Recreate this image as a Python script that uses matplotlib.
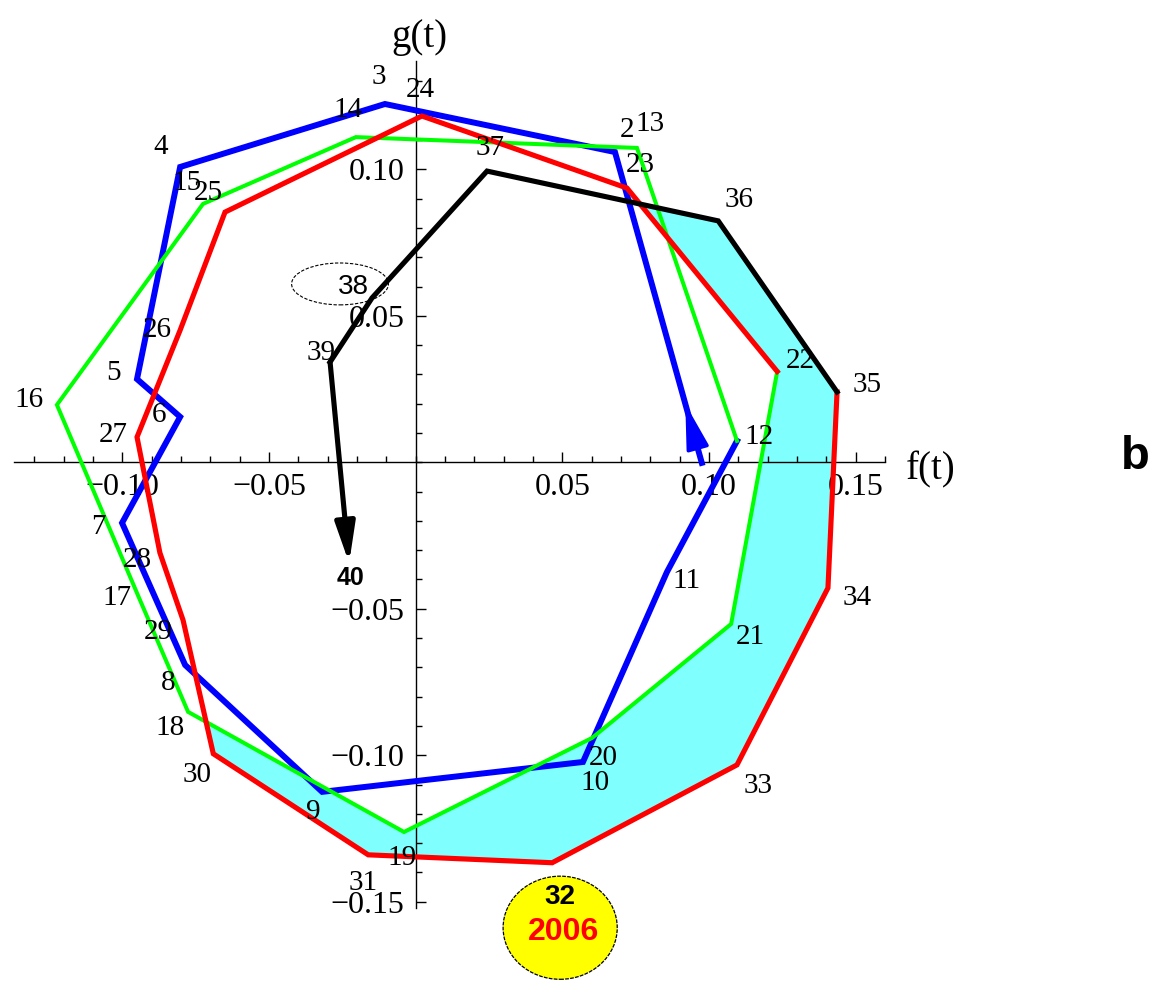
from matplotlib import pyplot as plt
from matplotlib.patches import Ellipse
from matplotlib.transforms import offset_copy
import numpy as np

# ---------------------------------------------------------------------------- #
# Trajectory data. Point numbers run 1..40.
blue_ids = list(range(1, 13))
blue_x = [0.0975, 0.0679, -0.0105, -0.0803, -0.0950, -0.0803,
          -0.1001, -0.0786, -0.0319, 0.0570, 0.0856, 0.1095]
blue_y = [-0.0002, 0.1059, 0.1223, 0.1008, 0.0284, 0.0155,
          -0.0207, -0.0692, -0.1125, -0.1023, -0.0375, 0.0073]

green_ids = list(range(12, 23))
green_x = [0.1095, 0.0754, -0.0204, -0.0725, -0.1223, -0.0940,
           -0.0776, -0.0040, 0.0601, 0.1075, 0.1232]
green_y = [0.0073, 0.1073, 0.1110, 0.0882, 0.0196, -0.0470,
           -0.0852, -0.1262, -0.0941, -0.0552, 0.0310]

red_ids = list(range(22, 36))
red_x = [0.1232, 0.0720, 0.0021, -0.0650, -0.0803, -0.0950, -0.0872,
         -0.0793, -0.0690, -0.0162, 0.0465, 0.1095, 0.1405, 0.1436]
red_y = [0.0310, 0.0936, 0.1182, 0.0854, 0.0451, 0.0086, -0.0309,
         -0.0539, -0.0995, -0.1340, -0.1367, -0.1033, -0.0429, 0.0240]

black_ids = list(range(35, 41))
black_x = [0.1436, 0.1031, 0.0243, -0.0149, -0.0292, -0.0227]
black_y = [0.0240, 0.0824, 0.0994, 0.0561, 0.0342, -0.0344]

xtick_vals = [-0.10, -0.05, 0.05, 0.10, 0.15]
xtick_text = ['\u22120.10', '\u22120.05', '0.05', '0.10', '0.15']
ytick_vals = [-0.15, -0.10, -0.05, 0.05, 0.10]
ytick_text = ['\u22120.15', '\u22120.10', '\u22120.05', '0.05', '0.10']

highlight_year = '2006'

# label offsets in screen pixels (dx right, dy down) from each point
label_offsets = {
    2: (12, -22), 3: (-6, -27), 4: (-19, -20), 5: (-24, -6), 6: (-21, -2),
    7: (-24, 4), 8: (-17, 18), 9: (-9, 20), 10: (12, 21), 11: (20, 9),
    12: (22, -4), 13: (13, -24), 14: (-8, -27), 15: (-16, -21),
    16: (-28, -5), 17: (-23, -2), 18: (-18, 16), 19: (-2, 26),
    20: (11, 20), 21: (19, 13), 22: (23, -10), 23: (13, -23),
    24: (-2, -26), 25: (-17, -19), 26: (-23, 0), 27: (-24, -2),
    28: (-23, 7), 29: (-25, 12), 30: (-16, 21), 31: (-5, 28),
    33: (21, 21), 34: (29, 10), 35: (30, -7), 36: (21, -21),
    37: (3, -23), 39: (-9, -9),
}


def seg_intersect(p, q, r, s):
    """Intersection of the segments p-q and r-s (as infinite lines)."""
    p, q, r, s = map(np.asarray, (p, q, r, s))
    d1, d2 = q - p, s - r
    t = np.cross(r - p, d2) / np.cross(d1, d2)
    return p + t * d1


def y_on_segment(p, q, x):
    return p[1] + (x - p[0]) * (q[1] - p[1]) / (q[0] - p[0])


plt.rcParams['font.family'] = ['Liberation Serif', 'DejaVu Serif']

fig = plt.figure(figsize=(11.68, 9.89), dpi=100)
ax = fig.add_axes([0, 0, 1, 1])
ax.set_xlim(-0.1417, 0.2564)
ax.set_ylim(-0.1798, 0.1578)

# ---------------------------------------------------------------------------- #
# Cyan band between the green loop and the red/black loop.
red = dict(zip(red_ids, zip(red_x, red_y)))
green = dict(zip(green_ids, zip(green_x, green_y)))
black = dict(zip(black_ids, zip(black_x, black_y)))

cross = seg_intersect(red[29], red[30], green[18], green[19])
top = (red[23][0], y_on_segment(black[37], black[36], red[23][0]))
band = [red[23], top, black[36]]
band += [red[i] for i in range(35, 29, -1)]
band += [tuple(cross)]
band += [green[i] for i in range(19, 23)]
band = np.array(band)
ax.fill(band[:, 0], band[:, 1], color='#80ffff', lw=0, zorder=1)

# ---------------------------------------------------------------------------- #
# The four loops.
ax.plot(blue_x, blue_y, color='#0000ff', lw=4.3, zorder=3,
        solid_joinstyle='miter')
ax.plot(green_x, green_y, color='#00ff00', lw=2.9, zorder=3.1,
        solid_joinstyle='miter')
ax.plot(red_x, red_y, color='#ff0000', lw=3.7, zorder=3.2,
        solid_joinstyle='miter')
ax.plot(black_x[:-1], black_y[:-1], color='black', lw=3.7, zorder=3.3,
        solid_joinstyle='miter')

# direction arrows
p1 = np.array([blue_x[0], blue_y[0]])
p2 = np.array([blue_x[1], blue_y[1]])
ax.annotate('', xy=p1 + 0.19 * (p2 - p1), xytext=p1,
            arrowprops=dict(arrowstyle='-|>,head_length=28,head_width=7',
                            mutation_scale=1, color='#0000ff', lw=2.5,
                            shrinkA=0, shrinkB=0), zorder=3.4)
ax.annotate('', xy=(black_x[-1], black_y[-1]),
            xytext=(black_x[-2], black_y[-2]),
            arrowprops=dict(arrowstyle='-|>,head_length=24,head_width=6',
                            mutation_scale=1, color='black', lw=3.7,
                            shrinkA=0, shrinkB=0), zorder=3.4)

# ---------------------------------------------------------------------------- #
# Point numbers.
all_pts = {}
for ids, xs, ys in [(blue_ids, blue_x, blue_y), (green_ids, green_x, green_y),
                    (red_ids, red_x, red_y), (black_ids, black_x, black_y)]:
    for i, x, y in zip(ids, xs, ys):
        all_pts[i] = (x, y)

for i, (dx, dy) in label_offsets.items():
    ax.annotate(str(i), xy=all_pts[i], xytext=(dx, -dy),
                textcoords='offset pixels', ha='center', va='center',
                fontsize=21, zorder=5)

ax.annotate('40', xy=all_pts[40], xytext=(1, -15), textcoords='offset pixels',
            ha='center', va='center', fontsize=18, fontweight='bold',
            family='Liberation Sans', zorder=5)

# 38 sits in a dashed ellipse
ax.add_patch(Ellipse(all_pts[38], 0.033, 0.0143, fill=False, ls=(0, (3, 1.5)),
                     lw=0.8, ec='black', zorder=4,
                     transform=offset_copy(ax.transData, fig=fig, x=-32, y=14,
                                           units='dots')))
ax.annotate('38', xy=all_pts[38], xytext=(-19, 11), textcoords='offset pixels',
            ha='center', va='center', fontsize=20, family='Liberation Sans',
            zorder=5)

# 32 with the year in a yellow ellipse
ax.add_patch(Ellipse(all_pts[32], 0.0389, 0.0352, fc='#ffff00', ec='black',
                     ls=(0, (3, 1)), lw=0.9, zorder=4,
                     transform=offset_copy(ax.transData, fig=fig, x=8, y=-65,
                                           units='dots')))
ax.annotate('32', xy=all_pts[32], xytext=(8, -34), textcoords='offset pixels',
            ha='center', va='center', fontsize=20, fontweight='bold',
            family='Liberation Sans', zorder=5)
ax.annotate(highlight_year, xy=all_pts[32], xytext=(11, -69),
            textcoords='offset pixels', ha='center', va='center',
            fontsize=23, fontweight='bold', color='#ff0000',
            family='Liberation Sans', zorder=5)

# ---------------------------------------------------------------------------- #
# Axes through the origin.
for s in ['top', 'right']:
    ax.spines[s].set_visible(False)
ax.spines['left'].set_position(('data', 0))
ax.spines['bottom'].set_position(('data', 0))
ax.spines['bottom'].set_bounds(-0.137, 0.16)
ax.spines['left'].set_bounds(-0.152, 0.137)
for s in ['left', 'bottom']:
    ax.spines[s].set_linewidth(1.0)
    ax.spines[s].set_zorder(2.5)

ax.set_xticks(xtick_vals)
ax.set_xticklabels(xtick_text)
ax.set_yticks(ytick_vals)
ax.set_yticklabels(ytick_text)
ax.set_xticks(np.arange(-13, 17) / 100, minor=True)
ax.set_yticks(np.arange(-15, 14) / 100, minor=True)
ax.tick_params(which='major', direction='in', length=7, width=1,
               labelsize=23, pad=8)
ax.tick_params(which='minor', direction='in', length=4, width=1)

ax.annotate('g(t)', xy=(0, 0.137), xytext=(4, 23), textcoords='offset pixels',
            ha='center', va='center', fontsize=28)
ax.annotate('f(t)', xy=(0.16, 0), xytext=(45, -8), textcoords='offset pixels',
            ha='center', va='center', fontsize=28)

fig.text(1135 / 1168, 1 - 457 / 989, 'b', ha='center', va='center',
         fontsize=34, fontweight='bold', family='Liberation Sans')

fig.savefig('out.png', dpi=100)
